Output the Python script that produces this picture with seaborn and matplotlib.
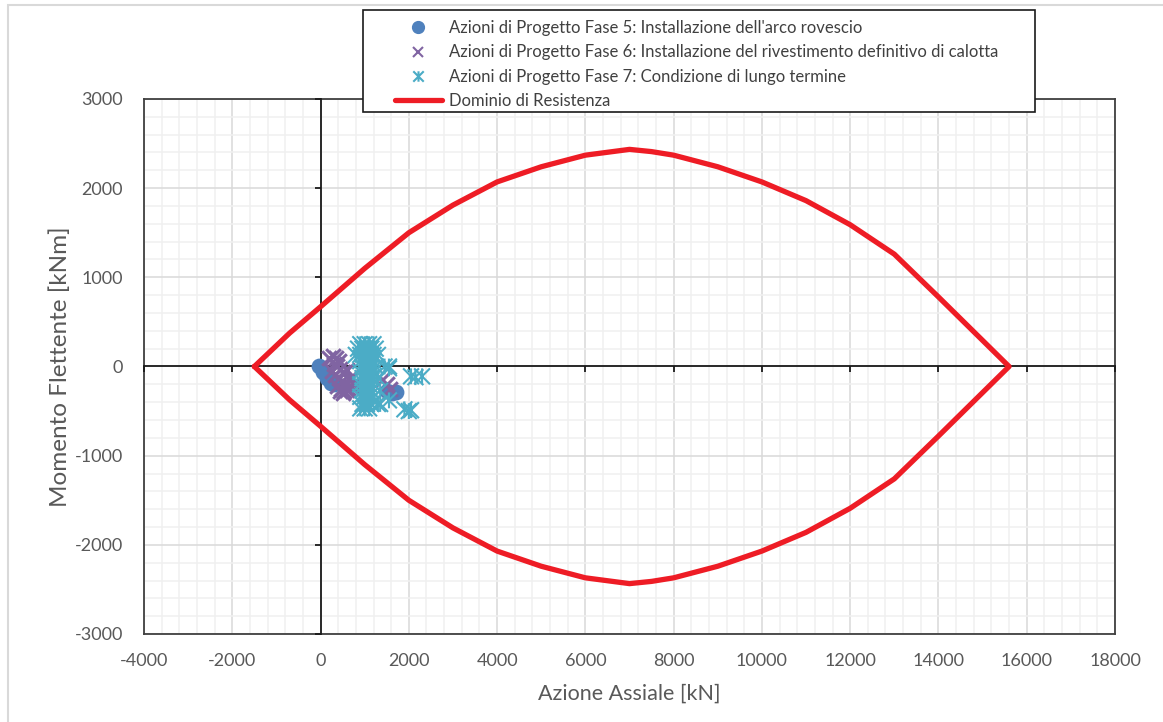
import numpy as np
import pandas as pd
import matplotlib
matplotlib.use("Agg")
import matplotlib.pyplot as plt
from matplotlib.path import Path
from matplotlib.patches import Rectangle
from matplotlib.lines import Line2D
from matplotlib.ticker import MultipleLocator
import seaborn as sns

# Interaction domain N-M (upper branch then lower branch, closed)
dom_N = [-1500, -700, 0, 1000, 2000, 3000, 4000, 5000, 6000, 7000, 7500, 8000,
         9000, 10000, 11000, 12000, 13000, 14000, 15600,
         14000, 13000, 12000, 11000, 10000, 9000, 8000, 7500, 7000, 6000, 5000,
         4000, 3000, 2000, 1000, 0, -700, -1500]
dom_M = [0, 375, 670, 1100, 1500, 1810, 2070, 2240, 2370, 2435, 2410, 2370,
         2240, 2070, 1860, 1590, 1260, 780, 0,
         -780, -1260, -1590, -1860, -2070, -2240, -2370, -2410, -2435, -2370, -2240,
         -2070, -1810, -1500, -1100, -670, -375, 0]

# Fase 5 - arco rovescio
f5_N = [-30, 60, 150, 230, 300, 1500, 1620, 1700]
f5_M = [10, -60, -130, -180, -200, -280, -300, -290]

# Fase 6 - rivestimento definitivo di calotta
f6_N = [200, 280, 350, 420, 300, 380, 450, 520, 600, 250, 330, 410, 480, 560,
        640, 700, 380, 460, 540, 620, 450, 520, 600, 680, 760, 1400, 1500, 1580]
f6_M = [100, 120, 90, 60, 30, 0, -30, -60, -40, -50, -100, -130, -160, -190,
        -150, -120, -220, -250, -270, -240, -280, -300, -260, -220, -180, -150,
        -200, -250]

# Fase 7 - lungo termine
f7_N = [900, 1000, 1100, 1200,
        850, 950, 1050, 1150, 1250,
        800, 900, 1000, 1100, 1200, 1300,
        900, 1000, 1100, 1200,
        950, 1050, 1150, 1250, 1450,
        900, 1000, 1100, 1200,
        950, 1050, 1150, 1300,
        900, 1000, 1100, 1200,
        950, 1050, 1150, 1350,
        900, 1000, 1100, 1200,
        950, 1050, 1150, 1300,
        900, 1000, 1100,
        1550, 1550, 2050, 2150, 2300, 1900, 2000, 2050, 1550, 1350]
f7_M = [250, 250, 250, 250,
        200, 200, 200, 200, 200,
        130, 130, 130, 130, 130, 130,
        60, 60, 60, 60,
        0, 0, 0, 0, 0,
        -60, -60, -60, -60,
        -130, -130, -130, -130,
        -200, -200, -200, -200,
        -270, -270, -270, -270,
        -340, -340, -340, -340,
        -420, -420, -420, -420,
        -470, -470, -470,
        0, -20, -110, -120, -110, -480, -500, -490, -380, -420]

x_ticks = [-4000, -2000, 0, 2000, 4000, 6000, 8000, 10000, 12000, 14000, 16000, 18000]
y_ticks = [-3000, -2000, -1000, 0, 1000, 2000, 3000]

lbl5 = "Azioni di Progetto Fase 5: Installazione dell'arco rovescio"
lbl6 = "Azioni di Progetto Fase 6: Installazione del rivestimento definitivo di calotta"
lbl7 = "Azioni di Progetto Fase 7: Condizione di lungo termine"
lbl_dom = "Dominio di Resistenza"

c_blue = "#4F81BD"
c_purple = "#8064A2"
c_teal = "#4BACC6"
c_red = "#EE1C25"
c_text = "#595959"

sns.set_theme(style="white")
plt.rcParams["font.family"] = ["Lato", "DejaVu Sans"]
plt.rcParams["axes.unicode_minus"] = False

W, H = 1163, 722
fig = plt.figure(figsize=(W / 100, H / 100), dpi=100)
pos = [144 / W, (H - 634) / H, (1115 - 144) / W, (634 - 99) / H]

# Background axes: grid, box and edge tick labels
ax = fig.add_axes(pos)
ax.set_xlim(x_ticks[0], x_ticks[-1])
ax.set_ylim(y_ticks[0], y_ticks[-1])
ax.set_xticks(x_ticks)
ax.set_yticks(y_ticks)
ax.xaxis.set_minor_locator(MultipleLocator(400))
ax.yaxis.set_minor_locator(MultipleLocator(200))
ax.grid(which="major", color="#d9d9d9", linewidth=1.1)
ax.grid(which="minor", color="#f0f0f0", linewidth=1.1)
ax.set_axisbelow(True)
ax.tick_params(which="both", length=0, labelsize=13, labelcolor=c_text)
ax.tick_params(axis="x", pad=14)
ax.tick_params(axis="y", pad=15)
for s in ax.spines.values():
    s.set_visible(True)
    s.set_color("#404040")
    s.set_linewidth(1.3)
ax.set_xlabel("Azione Assiale [kN]", fontsize=15.5, color=c_text, labelpad=10)
ax.set_ylabel("Momento Flettente [kNm]", fontsize=17.5, color=c_text, labelpad=3)

# Foreground axes: axes crossing at zero, data series
axz = fig.add_axes(pos, sharex=ax, sharey=ax)
axz.patch.set_visible(False)
axz.grid(False)
for side in ("top", "right"):
    axz.spines[side].set_visible(False)
for side in ("left", "bottom"):
    axz.spines[side].set_position(("data", 0))
    axz.spines[side].set_color("#1a1a1a")
    axz.spines[side].set_linewidth(1.3)
axz.tick_params(which="major", direction="out", length=4, width=1.3, color="#1a1a1a",
                labelleft=False, labelbottom=False, left=True, bottom=True)
axz.tick_params(which="minor", length=0)

# Excel-style star marker: an x crossed by a vertical bar
star = Path([(-1, -1), (1, 1), (-1, 1), (1, -1), (0, -1), (0, 1)],
            [Path.MOVETO, Path.LINETO] * 3)

sns.lineplot(x=dom_N, y=dom_M, sort=False, estimator=None, color=c_red,
             linewidth=3.8, ax=axz, zorder=4)
sns.scatterplot(x=f5_N, y=f5_M, marker="o", s=130, color=c_blue, edgecolor=c_blue,
                linewidth=0, ax=axz, zorder=5)
sns.scatterplot(x=f6_N, y=f6_M, marker="x", s=110, color=c_purple, linewidth=2.2,
                ax=axz, zorder=6)
sns.scatterplot(x=f7_N, y=f7_M, marker=star, s=130, color=c_teal, edgecolor=c_teal,
                facecolor="none", linewidth=1.5, ax=axz, zorder=7)
axz.set_xlabel("")
axz.set_ylabel("")

# Legend frame, then frameless legend entries inside it
fig.add_artist(Rectangle((363 / W, 1 - 112 / H), (1035 - 363) / W, (112 - 10) / H,
                         transform=fig.transFigure, facecolor="white",
                         edgecolor="#1a1a1a", linewidth=1.2, zorder=10))
handles = [
    Line2D([], [], linestyle="none", marker="o", markersize=8.5, color=c_blue),
    Line2D([], [], linestyle="none", marker="x", markersize=7.5, markeredgewidth=1.5,
           color=c_purple),
    Line2D([], [], linestyle="none", marker=star, markersize=7.5, markeredgewidth=1.5,
           color=c_teal),
    Line2D([], [], color=c_red, linewidth=3.8),
]
leg = fig.legend(handles, [lbl5, lbl6, lbl7, lbl_dom], loc="upper left",
                 bbox_to_anchor=(395 / W, 1 - 20 / H), frameon=False,
                 fontsize=12, handlelength=2.8, handletextpad=0.42,
                 labelspacing=0.5, borderpad=0, borderaxespad=0)
leg.set_zorder(11)
for t in leg.get_texts():
    t.set_color("#404040")

# Chart-area outline
fig.add_artist(Rectangle((8 / W, -0.05), 1.1, 1.05 - 5 / H, transform=fig.transFigure,
                         fill=False, edgecolor="#d9d9d9", linewidth=1.5))

fig.savefig("out.png", dpi=100)
